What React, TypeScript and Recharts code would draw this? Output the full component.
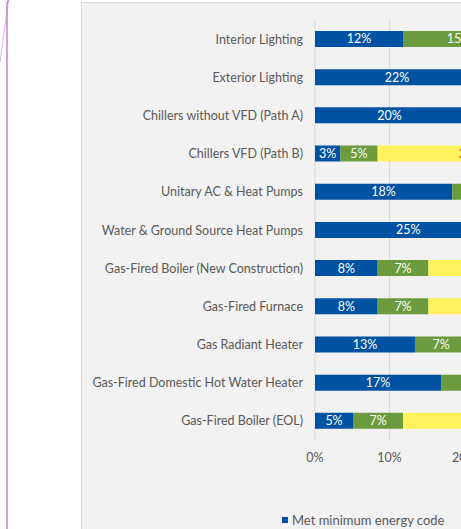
import React from 'react';
import { BarChart, Bar, XAxis, YAxis, CartesianGrid, LabelList, Legend } from 'recharts';

const categories = [
  'Interior Lighting',
  'Exterior Lighting',
  'Chillers without VFD (Path A)',
  'Chillers VFD (Path B)',
  'Unitary AC & Heat Pumps',
  'Water & Ground Source Heat Pumps',
  'Gas-Fired Boiler (New Construction)',
  'Gas-Fired Furnace',
  'Gas Radiant Heater',
  'Gas-Fired Domestic Hot Water Heater',
  'Gas-Fired Boiler (EOL)',
];

const metCode = [11.8, 22, 20, 3.4, 18.4, 25, 8.4, 8.4, 13.4, 16.9, 5.1];
const exceeded = [15, 10, 12, 5, 9, 8, 6.8, 6.8, 7, 8, 6.7];
const advanced = [20, 12, 14, 25, 16, 10, 22, 20, 12, 14, 24];

const seriesNames = ['Met minimum energy code', 'Exceeded code', 'Advanced efficiency'];
const seriesColors = ['#0052a3', '#6b9b3d', '#fff25c'];
const xTicks = [0, 10, 20, 30, 40, 50, 60, 70, 80, 90, 100];

const data = categories.map((name, i) => ({
  name,
  met: metCode[i],
  exc: exceeded[i],
  adv: advanced[i],
}));

const FONT = 'Lato, "Open Sans", sans-serif';
const fmt = (v: any) => `${Math.round(Number(v))}%`;

const CategoryTick = (props: any) => {
  const { x, y, payload } = props;
  return (
    <text x={x} y={y} dy="0.36em" textAnchor="end" fontFamily={FONT} fontSize={12.5} fill="#595959">
      {payload.value}
    </text>
  );
};

const LegendContent = () => (
  <div style={{ display: 'flex', gap: 40, fontFamily: FONT, fontSize: 13, color: '#595959', whiteSpace: 'nowrap' }}>
    {seriesNames.map((n, i) => (
      <div key={n} style={{ display: 'flex', alignItems: 'center' }}>
        <span style={{ display: 'inline-block', width: 6, height: 6, background: seriesColors[i], marginRight: 4 }} />
        <span>{n}</span>
      </div>
    ))}
  </div>
);

export default function App() {
  return (
    <div style={{ position: 'absolute', left: 0, top: 0, width: 461, height: 529, overflow: 'hidden', background: '#ffffff' }}>
      <svg style={{ position: 'absolute', left: 0, top: 0 }} width={20} height={529}>
        <line x1={8.5} y1={0} x2={0} y2={62} stroke="#d9b3e3" strokeWidth={1} />
        <line x1={7} y1={3} x2={7} y2={529} stroke="#c07fd0" strokeWidth={1.5} />
        <line x1={7} y1={3} x2={8.5} y2={0} stroke="#c07fd0" strokeWidth={1.5} />
      </svg>
      <div style={{ position: 'absolute', left: 81, top: 2, width: 1000, height: 600, background: '#f2f2f2', border: '1px solid #d9d9d9' }} />
      <div style={{ position: 'absolute', left: 82, top: 3 }}>
        <BarChart
          width={1000}
          height={560}
          data={data}
          layout="vertical"
          margin={{ top: 17, right: 21, bottom: 93, left: 0 }}
          barSize={16}
          barCategoryGap={0}
        >
          <CartesianGrid horizontal={false} vertical stroke="#d9d9d9" />
          <XAxis
            type="number"
            domain={[0, 100]}
            ticks={xTicks}
            tickFormatter={(v) => `${v}%`}
            axisLine={false}
            tickLine={false}
            tickSize={0}
            tickMargin={13}
            height={30}
            tick={{ fontFamily: FONT, fontSize: 12.5, fill: '#595959' }}
            interval={0}
          />
          <YAxis
            type="category"
            dataKey="name"
            width={233}
            axisLine={false}
            tickLine={false}
            tickSize={0}
            tickMargin={12}
            interval={0}
            tick={<CategoryTick />}
          />
          <Legend
            layout="horizontal"
            verticalAlign="middle"
            align="center"
            content={<LegendContent />}
            wrapperStyle={{ position: 'absolute', left: 200, top: 509, width: 'auto' }}
          />
          <Bar dataKey="met" name={seriesNames[0]} stackId="a" fill={seriesColors[0]} isAnimationActive={false}>
            <LabelList dataKey="met" position="center" formatter={fmt} fill="#ffffff" style={{ fontFamily: FONT, fontSize: 12.5 }} />
          </Bar>
          <Bar dataKey="exc" name={seriesNames[1]} stackId="a" fill={seriesColors[1]} isAnimationActive={false}>
            <LabelList dataKey="exc" position="center" formatter={fmt} fill="#ffffff" style={{ fontFamily: FONT, fontSize: 12.5 }} />
          </Bar>
          <Bar dataKey="adv" name={seriesNames[2]} stackId="a" fill={seriesColors[2]} isAnimationActive={false}>
            <LabelList dataKey="adv" position="center" formatter={fmt} fill="#c55a11" style={{ fontFamily: FONT, fontSize: 12.5 }} />
          </Bar>
        </BarChart>
      </div>
    </div>
  );
}
